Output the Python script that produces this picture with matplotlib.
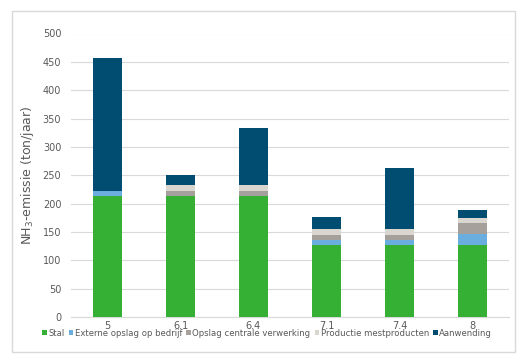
import numpy as np
import matplotlib
matplotlib.use("Agg")
import matplotlib.pyplot as plt
from matplotlib.patches import Rectangle

# data
categories = ["5", "6.1", "6.4", "7.1", "7.4", "8"]
series_names = ["Stal", "Externe opslag op bedrijf", "Opslag centrale verwerking",
                "Productie mestproducten", "Aanwending"]
stal = [213, 213, 213, 127, 127, 127]
externe = [10, 0, 0, 9, 9, 20]
opslag = [0, 9, 9, 9, 9, 19]
productie = [0, 10, 10, 11, 11, 8]
aanwending = [233, 19, 101, 21, 106, 14]

colors = ["#35B035", "#6AAEE0", "#A5A09B", "#D9D6D0", "#004D71"]

fig = plt.figure(figsize=(5.29, 3.57), dpi=100)
fig.patches.append(Rectangle((12 / 529, 1 - 352 / 357), 503 / 529, 341 / 357,
                             transform=fig.transFigure, fill=False,
                             edgecolor="#D9D9D9", linewidth=1))
ax = fig.add_axes([71 / 529, 1 - 317 / 357, 438 / 529, 283.5 / 357])

x = np.arange(len(categories))
bottom = np.zeros(len(categories))
for name, vals, c in zip(series_names, [stal, externe, opslag, productie, aanwending], colors):
    ax.bar(x, vals, width=0.39, bottom=bottom, color=c, label=name, zorder=3)
    bottom += np.array(vals)

ax.set_xlim(-0.5, len(categories) - 0.5)
ax.set_ylim(0, 500)
ax.set_yticks(np.arange(0, 501, 50))
ax.grid(axis="y", color="#D9D9D9", linewidth=0.8, zorder=0)
for s in ["top", "right", "left"]:
    ax.spines[s].set_visible(False)
ax.spines["bottom"].set_color("#D9D9D9")
ax.tick_params(axis="both", length=0, labelsize=7, labelcolor="#595959")
ax.tick_params(axis="x", pad=3)
ax.tick_params(axis="y", pad=7)
ax.set_xticks(x)
ax.set_xticklabels(categories)
ax.set_ylabel("NH$_3$-emissie (ton/jaar)", fontsize=9, color="#595959", labelpad=5)

fig.legend(loc="center", bbox_to_anchor=(267 / 529, 1 - 333 / 357), ncol=5, frameon=False,
           fontsize=6.1, handlelength=0.55, handleheight=0.55, handletextpad=0.15,
           columnspacing=0.5, labelcolor="#595959", borderpad=0)

fig.savefig("out.png", dpi=100)
